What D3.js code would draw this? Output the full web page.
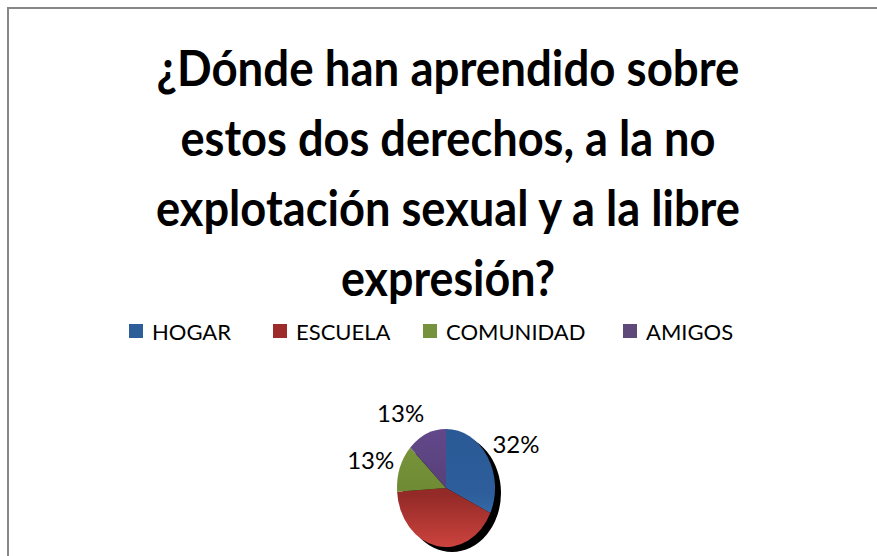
<!DOCTYPE html>
<html>
<head>
<meta charset="utf-8">
<script src="https://cdn.jsdelivr.net/npm/d3@7"></script>
<style>
  body { margin: 0; background: #fff; }
  svg { display: block; }
</style>
</head>
<body>
<div id="chart"></div>
<script>
// datos
var categories = ["HOGAR", "ESCUELA", "COMUNIDAD", "AMIGOS"];
var values = [32, 42, 13, 13];
var colors = ["#2E5E9A", "#9C2B2A", "#76923C", "#5F497A"];
var titleLines = [
    "¿Dónde han aprendido sobre",
    "estos dos derechos, a la no",
    "explotación sexual y a la libre",
    "expresión?"
];

var width = 877, height = 556;

var svg = d3.select("#chart")
    .append("svg")
    .attr("width", width)
    .attr("height", height);

// marco gris
svg.append("rect")
    .attr("x", 8)
    .attr("y", 8)
    .attr("width", 1000)
    .attr("height", 1000)
    .attr("fill", "none")
    .attr("stroke", "#878787")
    .attr("stroke-width", 2);

// titulo
var titleWidths = [583, 535, 584, 214];
var title = svg.append("g")
    .attr("font-family", "Lato, 'Open Sans', sans-serif")
    .attr("font-weight", "bold")
    .attr("font-size", 49)
    .attr("fill", "#000")
    .attr("text-anchor", "middle");

title.selectAll("text")
    .data(titleLines)
    .enter()
    .append("text")
    .attr("x", 448)
    .attr("y", function(d, i) { return 86 + i * 70; })
    .text(function(d) { return d; })
    .each(function(d, i) {
        var w = this.getComputedTextLength();
        if (w > titleWidths[i]) {
            d3.select(this)
                .attr("textLength", titleWidths[i])
                .attr("lengthAdjust", "spacingAndGlyphs");
        }
    });

// leyenda
var legend = svg.append("g")
    .attr("font-family", "Lato, 'Open Sans', sans-serif")
    .attr("font-size", 22);

var items = legend.selectAll("g")
    .data(categories)
    .enter()
    .append("g");

items.append("rect")
    .attr("y", 324)
    .attr("width", 14)
    .attr("height", 14)
    .attr("fill", function(d, i) { return colors[i]; });

items.append("text")
    .attr("x", 23)
    .attr("y", 340)
    .attr("fill", "#000")
    .text(function(d) { return d; });

var legendStarts = [129, 273, 423, 623];
items.attr("transform", function(d, i) {
    return "translate(" + legendStarts[i] + ",0)";
});

// pastel
var cx = 446, cy = 488, rx = 49, ry = 59;

var pie = d3.pie()
    .sort(null)
    .value(function(d) { return d; });

var arcs = pie(values);

var arc = d3.arc()
    .innerRadius(0)
    .outerRadius(ry);

var defs = svg.append("defs");
var shades = [
    ["#2A5995", "#2D5E9B", "#427BBF"],
    ["#A3322E", "#932A27", "#CC433E"],
    ["#7A973D", "#6E8A33", "#8CAB47"],
    ["#62488A", "#573F78", "#705596"]
];
shades.forEach(function(s, i) {
    var g = defs.append("linearGradient")
        .attr("id", "grad" + i)
        .attr("gradientUnits", "userSpaceOnUse")
        .attr("x1", 0).attr("y1", -ry)
        .attr("x2", 0).attr("y2", ry);
    g.append("stop").attr("offset", "0%").attr("stop-color", s[0]);
    g.append("stop").attr("offset", "55%").attr("stop-color", s[1]);
    g.append("stop").attr("offset", "100%").attr("stop-color", s[2]);
});

// sombra
svg.append("ellipse")
    .attr("cx", cx + 6)
    .attr("cy", cy + 5)
    .attr("rx", rx)
    .attr("ry", ry)
    .attr("fill", "#000");

var pieG = svg.append("g")
    .attr("transform", "translate(" + cx + "," + cy + ") scale(" + (rx / ry) + ",1)");

pieG.selectAll("path")
    .data(arcs)
    .enter()
    .append("path")
    .attr("d", arc)
    .attr("fill", function(d, i) { return "url(#grad" + i + ")"; });

// etiquetas de porcentaje (la de abajo queda fuera del cuadro, como en el original)
svg.append("g")
    .attr("font-family", "Lato, 'Open Sans', sans-serif")
    .attr("font-size", 24)
    .attr("fill", "#000")
    .selectAll("text")
    .data(arcs)
    .enter()
    .append("text")
    .each(function(d) {
        var a = (d.startAngle + d.endAngle) / 2;
        var s = Math.sin(a), c = Math.cos(a);
        var px = cx + (rx + 6) * s;
        var py = cy - (ry + 6) * c;
        d3.select(this)
            .attr("x", px)
            .attr("y", py + 8 - (c < 0 ? 30 : 16) * c)
            .attr("text-anchor", s >= 0 ? "start" : "end");
    })
    .text(function(d) { return d.value + "%"; });
</script>
</body>
</html>
